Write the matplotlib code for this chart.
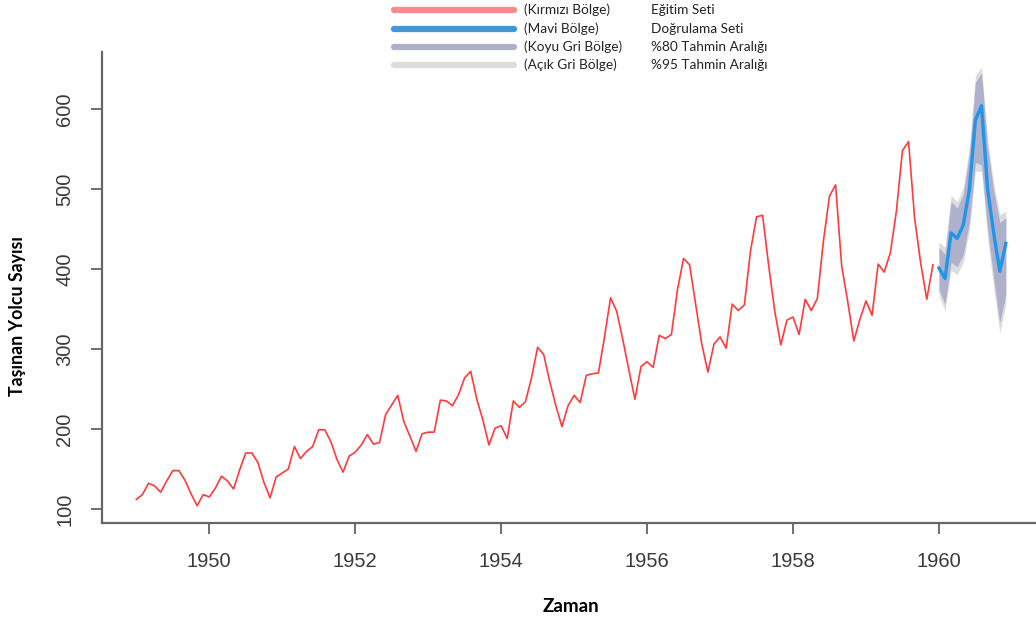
import numpy as np
import matplotlib
matplotlib.use('Agg')
import matplotlib.pyplot as plt
from matplotlib.lines import Line2D

# egitim seti (1949-1959, aylik)
egitim = [112, 118, 132, 129, 121, 135, 148, 148, 136, 119, 104, 118,
          115, 126, 141, 135, 125, 149, 170, 170, 158, 133, 114, 140,
          145, 150, 178, 163, 172, 178, 199, 199, 184, 162, 146, 166,
          171, 180, 193, 181, 183, 218, 230, 242, 209, 191, 172, 194,
          196, 196, 236, 235, 229, 243, 264, 272, 237, 211, 180, 201,
          204, 188, 235, 227, 234, 264, 302, 293, 259, 229, 203, 229,
          242, 233, 267, 269, 270, 315, 364, 347, 312, 274, 237, 278,
          284, 277, 317, 313, 318, 374, 413, 405, 355, 306, 271, 306,
          315, 301, 356, 348, 355, 422, 465, 467, 404, 347, 305, 336,
          340, 318, 362, 348, 363, 435, 491, 505, 404, 359, 310, 337,
          360, 342, 406, 396, 420, 472, 548, 559, 463, 407, 362, 405]

# 1960 tahmin ve araliklar
tahmin = [401, 388, 445, 438, 455, 499, 586, 604, 500, 445, 397, 432]
lo80 = [374, 356, 408, 403, 418, 458, 533, 530, 450, 388, 333, 368]
hi80 = [427, 418, 484, 476, 493, 543, 633, 645, 552, 498, 458, 464]
lo95 = [366, 348, 398, 393, 408, 448, 522, 522, 438, 377, 320, 356]
hi95 = [434, 427, 492, 484, 502, 552, 642, 652, 562, 507, 468, 472]

t_egitim = 1949 + np.arange(len(egitim)) / 12.0
t_tahmin = 1960 + np.arange(len(tahmin)) / 12.0

W, H = 1036, 626
fig = plt.figure(figsize=(W / 100, H / 100), dpi=100)
ax = fig.add_axes([102 / W, 1 - 523 / H, 1 - 102 / W, (523 - 52) / H])

ax.fill_between(t_tahmin, lo95, hi95, color='#dcdcde', lw=0)
ax.fill_between(t_tahmin, lo80, hi80, color='#aeb0cc', lw=0)
ax.plot(t_egitim, egitim, color='#ff3b3b', lw=1.2)
ax.plot(t_tahmin, tahmin, color='#2196e8', lw=2.4)

ax.set_xlim(1948.53, 1961.33)
ax.set_ylim(82.5, 671)
ax.set_xticks([1950, 1952, 1954, 1956, 1958, 1960])
ax.set_yticks([100, 200, 300, 400, 500, 600])

for s in ['top', 'right']:
    ax.spines[s].set_visible(False)
for s in ['left', 'bottom']:
    ax.spines[s].set_color('#666666')
    ax.spines[s].set_linewidth(1.6)

tickfont = ['Liberation Sans', 'DejaVu Sans']
ax.tick_params(axis='both', length=8, width=1.2, color='#555555',
               labelcolor='#3a3a3a', labelsize=14.5)
ax.tick_params(axis='x', pad=13)
ax.tick_params(axis='y', pad=12)
for lab in ax.get_xticklabels():
    lab.set_family(tickfont)
for lab in ax.get_yticklabels():
    lab.set_family(tickfont)
    lab.set_rotation(90)
    lab.set_va('center')

lblfont = ['Lato', 'DejaVu Sans']
fig.text(18 / W, 1 - 316 / H, 'Taşınan Yolcu Sayısı', rotation=90,
         ha='center', va='center', fontsize=12.8, fontweight='bold',
         family=lblfont)
fig.text(571 / W, 1 - 607 / H, 'Zaman', ha='center', va='center',
         fontsize=13.5, fontweight='bold', family=lblfont)

# lejant
leg = [('#f98a8a', '(Kırmızı Bölge)', 'Eğitim Seti', 10),
       ('#3d97dc', '(Mavi Bölge)', 'Doğrulama Seti', 29),
       ('#aeb0c8', '(Koyu Gri Bölge)', '%80 Tahmin Aralığı', 47),
       ('#dcdcdc', '(Açık Gri Bölge)', '%95 Tahmin Aralığı', 65)]
for col, t1, t2, y in leg:
    yy = 1 - y / H
    fig.add_artist(Line2D([394 / W, 514 / W], [yy, yy], color=col, lw=4.5,
                          solid_capstyle='round', transform=fig.transFigure))
    fig.text(524 / W, yy, t1, ha='left', va='center', fontsize=9.8,
             color='#222222', family=lblfont)
    fig.text(651 / W, yy, t2, ha='left', va='center', fontsize=9.8,
             color='#222222', family=lblfont)

fig.savefig('out.png', dpi=100)
